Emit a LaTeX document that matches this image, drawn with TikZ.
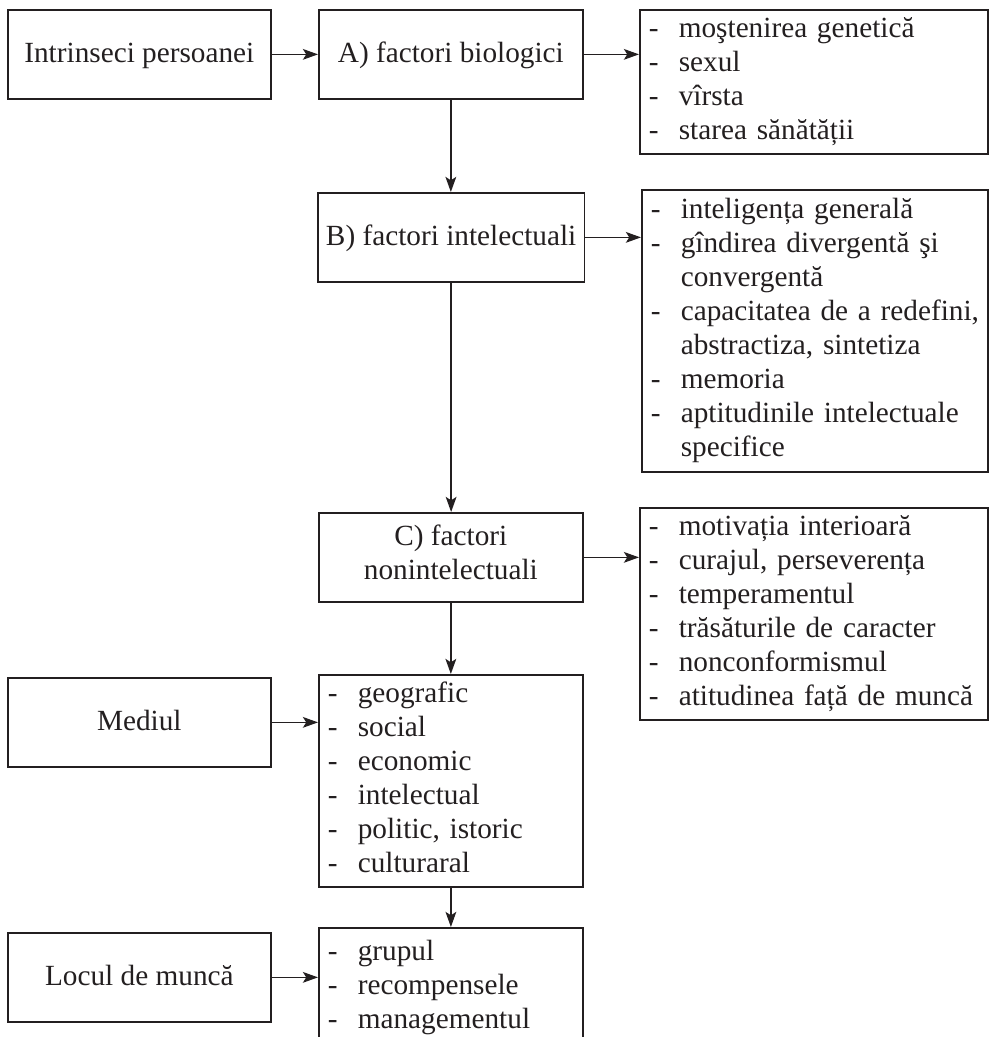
\documentclass[tikz, border = 0pt]{standalone}
\usepackage{fontspec}
\setmainfont{Liberation Serif}
\usetikzlibrary{arrows.meta}

\definecolor{ink}{RGB}{35, 31, 32}

% one unit of the picture is one pixel
\newcommand{\px}{0.41pt}

\begin{document}
\begin{tikzpicture}[x = \px, y = -\px,
        font = \fontsize{12}{13.94}\selectfont,
        color = ink, line width = 0.7pt,
        > = {Stealth[length = 6.2pt, width = 4.4pt, inset = 1.4pt]},
        box/.style = {draw, anchor = north west, align = center,
            minimum width = #1*\px, minimum height = 89*\px,
            text height = 0.75em, text depth = 0.09em},
        list/.style 2 args = {draw, anchor = north west, align = left,
            inner xsep = 9*\px, inner ysep = 0pt,
            text width = #1, minimum height = #2}]

        \useasboundingbox (0, 0) rectangle (989, 1037);
        \clip (0, 0) rectangle (989, 1037);

        % left column
        \node [box = 263] (intr) at (7, 9) {Intrinseci persoanei};
        \node [box = 263] (mediu) at (7, 677) {Mediul};
        \node [box = 263] (loc) at (7, 932) {Locul de muncă};

        % middle column
        \node [box = 264] (bio) at (318, 9) {A) factori biologici};
        \node [box = 264] (intel) at (317, 192) {B) factori intelectuali};
        \node [box = 264, text height = 1.91em, text depth = 0.07em] (nonintel)
            at (318, 512) {C) factori\\nonintelectuali};

        \node [list = {100.9pt}{86.9pt}] (mediulist) at (318, 674) {%
            \begin{tabular}{@{}l@{\hspace{8.3pt}}l@{}}
                - & geografic \\
                - & social \\
                - & economic \\
                - & intelectual \\
                - & politic, istoric \\
                - & culturaral
            \end{tabular}};
        \node [list = {100.9pt}{49pt}] (loclist) at (318, 927) {%
            \begin{tabular}{@{}l@{\hspace{8.3pt}}l@{}}
                - & grupul \\
                - & recompensele \\
                - & managementul
            \end{tabular}};

        % right column
        \node [list = {135.3pt}{59pt}] (biolist) at (639, 9) {%
            \begin{tabular}{@{}l@{\hspace{8.3pt}}l@{}}
                - & moştenirea genetică \\
                - & sexul \\
                - & vîrsta \\
                - & starea sănătății
            \end{tabular}};
        \node [list = {134.5pt}{115.6pt}] (intellist) at (641, 189) {%
            \begin{tabular}{@{}l@{\hspace{8.3pt}}l@{}}
                - & inteligența generală \\
                - & gîndirea divergentă şi \\
                  & convergentă \\
                - & capacitatea de a redefini, \\
                  & abstractiza, sintetiza \\
                - & memoria \\
                - & aptitudinile intelectuale \\
                  & specifice
            \end{tabular}};
        \node [list = {135.3pt}{86.9pt}] (nonintellist) at (639, 507) {%
            \begin{tabular}{@{}l@{\hspace{8.3pt}}l@{}}
                - & motivația interioară \\
                - & curajul, perseverența \\
                - & temperamentul \\
                - & trăsăturile de caracter \\
                - & nonconformismul \\
                - & atitudinea față de muncă
            \end{tabular}};

        \draw [->]
            (intr) edge (bio)
            (bio) edge (bio -| biolist.west)
            (bio) edge (bio |- intel.north)
            (intel) edge (intel -| intellist.west)
            (intel) edge (intel |- nonintel.north)
            (nonintel) edge (nonintel -| nonintellist.west)
            (nonintel) edge (nonintel |- mediulist.north)
            (mediu) edge (mediu -| mediulist.west)
            (mediulist) edge (mediulist |- loclist.north)
            (loc) edge (loc -| loclist.west)
        ;
    \end{tikzpicture}
\end{document}
